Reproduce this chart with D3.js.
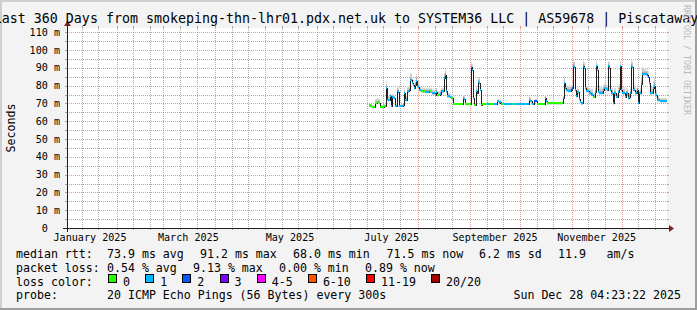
<!DOCTYPE html>
<html>
<head>
<meta charset="utf-8">
<script src="https://cdn.jsdelivr.net/npm/d3@7/dist/d3.min.js"></script>
<style>
  html, body { margin: 0; padding: 0; background: #f3f3f3; }
  svg { display: block; }
  text { font-family: "DejaVu Sans Mono", monospace; fill: #000; }
</style>
</head>
<body>
<svg id="chart" width="697" height="310"></svg>
<script>
// ── Data ──────────────────────────────────────
const graphEnd   = new Date(Date.UTC(2025, 11, 28, 4, 23, 22));
const graphStart = new Date(Date.UTC(2025, 0, 2, 4, 23, 22));   // 360 days earlier
const dataStart  = new Date(Date.UTC(2025, 6, 2, 9, 11, 22));   // first sample with data
const stepSec    = 51840;                                        // one sample per pixel
const yMaxMs     = 112.36;

// median rtt (ms), one value per step
const medianMs = [
  68.8, 68.8, 68.5, 68.0, 68.0, 68.0, 70.4, 70.4, 70.8, 70.8,
  70.4, 68.2, 68.2, 68.2, 68.2, 68.5, 68.5, 78.5, 72.3, 72.0,
  72.0, 74.0, 68.7, 73.4, 73.4, 73.0, 68.7, 68.7, 76.8, 76.5,
  68.7, 68.7, 68.7, 68.7, 68.9, 75.8, 72.0, 72.0, 76.8, 76.8,
  77.5, 83.0, 83.2, 81.5, 80.3, 78.5, 80.3, 82.7, 79.6, 79.4,
  77.7, 77.5, 77.0, 77.0, 76.8, 77.0, 76.6, 76.6, 76.6, 76.6,
  77.0, 76.8, 76.5, 75.7, 75.7, 75.7, 74.9, 76.6, 74.7, 74.7,
  74.9, 75.5, 76.8, 76.8, 76.8, 84.3, 86.1, 76.8, 74.0, 74.0,
  74.0, 73.5, 73.0, 72.8, 69.9, 69.9, 69.9, 69.9, 69.9, 69.9,
  69.9, 69.9, 69.9, 69.9, 73.0, 72.5, 69.9, 69.9, 69.9, 69.9,
  69.9, 69.9, 90.3, 89.0, 73.0, 69.3, 69.3, 76.8, 75.8, 82.0,
  81.5, 77.7, 69.3, 69.9, 69.9, 69.9, 69.9, 69.9, 69.9, 69.9,
  69.9, 69.9, 69.9, 69.9, 69.9, 69.9, 69.9, 69.9, 71.2, 71.2,
  70.5, 71.0, 69.9, 69.9, 69.9, 69.9, 69.9, 69.9, 69.9, 69.9,
  69.9, 69.9, 69.9, 69.9, 69.9, 69.9, 69.9, 69.9, 69.9, 69.9,
  69.9, 69.9, 69.9, 69.9, 69.9, 69.9, 69.9, 69.9, 69.9, 69.9,
  72.0, 71.5, 71.2, 69.9, 69.9, 71.5, 71.5, 71.5, 69.9, 69.9,
  69.9, 69.9, 69.9, 69.9, 69.9, 69.9, 73.0, 71.2, 70.2, 70.2,
  70.2, 70.2, 70.2, 70.2, 70.2, 70.2, 70.2, 70.2, 70.2, 70.2,
  70.2, 70.2, 70.2, 70.2, 72.8, 81.3, 78.5, 77.3, 77.3, 77.0,
  77.2, 77.0, 77.5, 78.6, 91.2, 90.5, 77.5, 74.0, 76.2, 76.2,
  72.6, 71.0, 70.0, 70.0, 91.0, 90.0, 78.5, 77.0, 77.0, 76.8,
  75.7, 75.7, 74.9, 75.0, 73.8, 73.8, 76.6, 90.8, 89.0, 76.6,
  76.0, 76.0, 76.0, 76.0, 77.5, 78.5, 78.5, 78.0, 77.5, 91.0,
  90.0, 77.5, 75.7, 75.7, 70.0, 75.7, 75.7, 73.8, 73.8, 76.6,
  78.0, 90.8, 77.5, 76.0, 76.0, 76.0, 73.8, 75.7, 75.7, 73.0,
  73.8, 76.0, 91.2, 90.6, 77.5, 77.5, 75.7, 75.7, 77.5, 70.0,
  75.7, 75.7, 81.0, 86.5, 86.5, 86.5, 86.5, 86.5, 86.0, 85.0,
  81.3, 75.7, 76.0, 76.0, 78.5, 80.0, 75.5, 74.5, 72.0, 72.0,
  71.9, 71.5, 71.5, 71.5, 71.5, 71.5, 71.5, 71.5
];

// lost pings (of 20) per step
const lossPings = [
  0,0,0,0,0,0,0,0,0,0,  0,0,0,0,0,0,0,1,2,1,  1,1,1,1,1,1,1,1,1,1,
  1,1,1,1,1,1,1,1,1,1,  1,1,1,1,1,1,1,1,1,1,  1,1,0,0,1,0,1,1,1,1,
  1,0,0,1,1,1,0,1,0,0,  0,1,1,1,1,1,1,1,1,1,  1,1,1,0,0,0,0,0,0,0,
  0,0,0,0,1,1,0,0,0,0,  0,0,1,1,1,0,0,1,2,1,  1,1,1,0,0,0,0,0,1,1,
  1,0,0,0,1,1,1,1,1,1,  1,1,0,0,0,1,1,1,1,1,  1,1,1,1,0,0,1,1,1,1,
  1,1,1,1,1,1,0,1,1,1,  1,1,1,1,1,2,2,2,1,0,  0,0,0,0,0,0,1,1,0,0,
  0,0,0,0,0,0,0,0,0,0,  0,0,0,0,1,1,1,1,1,1,  1,1,2,2,1,1,1,1,1,1,
  1,1,1,1,1,1,1,1,1,1,  1,1,1,1,0,0,1,1,1,1,  1,1,1,1,1,1,1,1,1,1,
  1,1,1,1,1,1,1,1,1,1,  1,1,1,1,1,1,0,1,1,1,  0,1,1,1,1,1,1,1,1,1,
  1,1,1,1,1,1,1,1,2,2,  1,1,1,1,1,1,1,1,1,1,  1,1,1,1,1,1,1,1
];

// smoke: spread of the slowest pings above the median (ms)
const smokeMs = [
  1,1,1,1,1,1,2,2,2,2,  2,1,1,1,1,1,1,4,2,2,  2,2,1,2,2,2,1,1,3,3,
  1,1,1,1,1,3,2,2,3,3,  3,4,4,3,3,3,3,4,3,3,  3,2,2,2,2,2,2,2,2,2,
  2,2,2,2,2,2,2,2,2,2,  2,2,2,2,2,3,3,2,2,2,  2,2,2,1,.5,.5,.5,.5,.5,.5,
  .5,.5,.5,.5,2,2,.5,.5,.5,.5,  .5,.5,3,3,2,1,1,3,3,3,  3,2,.5,.5,.5,.5,.5,.5,.5,.5,
  .5,.5,.5,.5,.5,.5,.5,.5,1,1,  1,1,.5,.5,.5,.5,.5,.5,.5,.5,  .5,.5,.5,.5,.5,.5,.5,.5,.5,.5,
  .5,.5,.5,.5,.5,.5,.5,.5,.5,.5,  2,2,1,.5,.5,1,1,1,.5,.5,  .5,.5,.5,.5,.5,.5,2,1,.5,.5,
  .5,.5,.5,.5,.5,.5,.5,.5,.5,.5,  .5,.5,.5,.5,2,4,3,3,3,3,  3,3,3,3,3,3,3,3,3,3,
  2,2,1,1,3,3,3,3,3,3,  3,3,3,3,2,2,3,3,3,3,  3,3,3,3,3,3,3,3,3,3,
  3,3,3,3,2,3,3,2,2,3,  3,3,3,3,3,3,2,3,3,2,  2,3,3,3,3,3,3,3,3,1,
  2,3,4,4,4,3,3,3,3,3,  3,3,3,3,4,4,3,3,2,2,  1.5,1.5,1.5,1.5,1.5,1.5,1.5,1.5
];

const yTicks      = [0, 10, 20, 30, 40, 50, 60, 70, 80, 90, 100, 110];
const yTickLabels = ["0", "10 m", "20 m", "30 m", "40 m", "50 m", "60 m", "70 m", "80 m", "90 m", "100 m", "110 m"];

const xLabelMonths = [0, 2, 4, 6, 8, 10];
const xLabelText   = ["January 2025", "March 2025", "May 2025", "July 2025", "September 2025", "November 2025"];

const lossClasses = ["0", "1", "2", "3", "4-5", "6-10", "11-19", "20/20"];
const lossColors  = ["#26ff00", "#00b8ff", "#0059ff", "#7e00ff", "#ff00ff", "#ff5500", "#ff0000", "#a10000"];
const lossUpper   = [0, 1, 2, 3, 5, 10, 19, 20];

const statLines = [
  { label: "median rtt:",  items: [["73.9 ms avg", 107], ["91.2 ms max", 200], ["68.0 ms min", 293], ["71.5 ms now", 386.5], ["6.2 ms sd", 479], ["11.9", 558], ["am/s", 606.5]] },
  { label: "packet loss:", items: [["0.54 % avg", 107], ["9.13 % max", 193], ["0.00 % min", 279], ["0.89 % now", 365]] }
];
const probeText = "20 ICMP Echo Pings (56 Bytes) every 300s";
const stampText = "Sun Dec 28 04:23:22 2025";
const titleText = "Last 360 Days from smokeping-thn-lhr01.pdx.net.uk to SYSTEM36 LLC | AS59678 | Piscataway";

// ── Layout ────────────────────────────────
const W = 697, H = 310;
const P = { left: 67, top: 28, width: 600, height: 200 };
const X0 = P.left, X1 = P.left + P.width, Y0 = P.top + P.height, Y1 = P.top;

const GRID  = "rgba(143,143,143,0.75)";
const MGRID = "rgba(222,79,79,0.6)";
const AXIS  = "#1f1f1f";
const ARROW = "#801f1f";

const svg = d3.select("#chart");
const x = d3.scaleUtc().domain([graphStart, graphEnd]).range([X0, X1]);
const y = d3.scaleLinear().domain([0, yMaxMs]).range([Y0, Y1]);
const px = v => Math.round(v) + 0.5;

// background + shade frame
svg.append("rect").attr("width", W).attr("height", H).attr("fill", "#f3f3f3");
svg.append("rect").attr("x", 0).attr("y", 0).attr("width", W).attr("height", 2).attr("fill", "#cfcfcf");
svg.append("rect").attr("x", 0).attr("y", 0).attr("width", 2).attr("height", H).attr("fill", "#cfcfcf");
svg.append("rect").attr("x", 0).attr("y", H - 2).attr("width", W).attr("height", 2).attr("fill", "#9e9e9e");
svg.append("rect").attr("x", W - 2).attr("y", 0).attr("width", 2).attr("height", H).attr("fill", "#9e9e9e");

// canvas
svg.append("rect").attr("x", X0).attr("y", Y1).attr("width", P.width).attr("height", P.height).attr("fill", "#ffffff");

// ── Grid ──────────────────────────────────
const gGrid = svg.append("g").attr("shape-rendering", "crispEdges");

function hLine(v, col) {
  const yy = px(y(v));
  gGrid.append("line").attr("x1", X0 - 2).attr("x2", X0).attr("y1", yy).attr("y2", yy).attr("stroke", col);
  gGrid.append("line").attr("x1", X1).attr("x2", X1 + 2).attr("y1", yy).attr("y2", yy).attr("stroke", col);
  gGrid.append("line").attr("x1", X0).attr("x2", X1).attr("y1", yy).attr("y2", yy)
    .attr("stroke", col).attr("stroke-dasharray", "1,1");
}
function vLine(t, col) {
  const xx = px(x(t));
  gGrid.append("line").attr("x1", xx).attr("x2", xx).attr("y1", Y0).attr("y2", Y0 + 2).attr("stroke", col);
  gGrid.append("line").attr("x1", xx).attr("x2", xx).attr("y1", Y1 - 2).attr("y2", Y1).attr("stroke", col);
  gGrid.append("line").attr("x1", xx).attr("x2", xx).attr("y1", Y1).attr("y2", Y0)
    .attr("stroke", col).attr("stroke-dasharray", "1,1");
}

// minor: every 5 ms, major: every 10 ms
d3.range(5, yMaxMs, 10).forEach(v => hLine(v, GRID));
yTicks.filter(v => v > 0).forEach(v => hLine(v, MGRID));

// minor on the 11th and 21st, major on the 1st of each month
d3.utcDay.range(graphStart, graphEnd)
  .filter(d => d.getUTCDate() === 11 || d.getUTCDate() === 21)
  .forEach(d => vLine(d, GRID));
d3.utcMonth.range(graphStart, graphEnd).forEach(d => vLine(d, MGRID));

// ── Series ────────────────────────────────
const stepMs = stepSec * 1000;
const pts = medianMs.map((v, i) => ({
  t: new Date(+dataStart + i * stepMs),
  v, loss: lossPings[i], s: smokeMs[i]
}));
const ptsEnd = pts.concat([{ ...pts[pts.length - 1], t: new Date(+dataStart + pts.length * stepMs) }]);

// smoke, three grey layers (outer -> inner)
const smokeLayers = [
  { hi: 1.0,  lo: 1.0, fill: "#dedede" },
  { hi: 0.66, lo: 0.7, fill: "#c6c6c6" },
  { hi: 0.33, lo: 0.4, fill: "#a9a9a9" }
];
smokeLayers.forEach(L => {
  svg.append("path")
    .datum(ptsEnd)
    .attr("fill", L.fill)
    .attr("shape-rendering", "crispEdges")
    .attr("d", d3.area()
      .curve(d3.curveStepAfter)
      .x(d => x(d.t))
      .y0(d => y(d.v - L.lo))
      .y1(d => y(d.v + d.s * L.hi)));
});

// median, thin dark line
svg.append("path")
  .datum(ptsEnd)
  .attr("fill", "none")
  .attr("stroke", "#202020")
  .attr("stroke-width", 1)
  .attr("shape-rendering", "crispEdges")
  .attr("d", d3.line().curve(d3.curveStepAfter).x(d => Math.round(x(d.t))).y(d => px(y(d.v))));

// median coloured by loss (2 px band)
const lossIndex = n => lossUpper.findIndex(u => n <= u);
const sw = 0.6;
svg.append("g").attr("shape-rendering", "crispEdges")
  .selectAll("rect").data(pts).join("rect")
  .attr("x", d => x(d.t))
  .attr("width", d => x(new Date(+d.t + stepMs)) - x(d.t))
  .attr("y", d => y(d.v + sw))
  .attr("height", d => y(d.v - sw) - y(d.v + sw))
  .attr("fill", d => lossColors[lossIndex(d.loss)]);

// ── Axes ──────────────────────────────────
const gAx = svg.append("g").attr("shape-rendering", "crispEdges");
gAx.append("line").attr("x1", X0 - 4).attr("x2", X1 + 4).attr("y1", Y0 + 0.5).attr("y2", Y0 + 0.5).attr("stroke", AXIS);
gAx.append("line").attr("x1", X0 + 0.5).attr("x2", X0 + 0.5).attr("y1", Y0 + 4).attr("y2", Y1 - 4).attr("stroke", AXIS);
svg.append("path").attr("fill", ARROW)
  .attr("d", `M${X1 + 2},${Y0 - 3} L${X1 + 2},${Y0 + 4} L${X1 + 7},${Y0 + 0.5} Z`);
svg.append("path").attr("fill", ARROW)
  .attr("d", `M${X0 - 3},${Y1 - 2} L${X0 + 4},${Y1 - 2} L${X0 + 0.5},${Y1 - 7} Z`);

// y labels (right aligned, unit suffix keeps the column)
const axisFont = 10.1, axisAdv = axisFont * 0.602;
svg.append("g").selectAll("text").data(yTicks).join("text")
  .attr("x", (d, i) => 60 - (yTickLabels[i].includes(" ") ? 0 : 2 * axisAdv))
  .attr("y", d => y(d) + 3.6)
  .attr("text-anchor", "end")
  .attr("font-size", axisFont)
  .text((d, i) => yTickLabels[i]);

// x labels centred mid-month
svg.append("g").selectAll("text").data(xLabelMonths).join("text")
  .attr("x", m => x(new Date(Date.UTC(2025, m, 16))))
  .attr("y", 241)
  .attr("text-anchor", "middle")
  .attr("font-size", axisFont)
  .text((m, i) => xLabelText[i]);

// title (centred by rrdtool, runs past both edges like the original)
svg.append("text")
  .attr("x", -6.2).attr("y", 23)
  .attr("font-size", 13.3)
  .text(titleText);

// vertical unit label
svg.append("text")
  .attr("transform", `translate(15.2,${(Y0 + Y1) / 2}) rotate(-90)`)
  .attr("text-anchor", "middle")
  .attr("font-size", 11.6)
  .text("Seconds");

// watermark
svg.append("text")
  .attr("transform", "translate(684,5) rotate(90)")
  .attr("font-size", 8.3)
  .style("fill", "#b9b9b9")
  .text("RRDTOOL / TOBI OETIKER");

// ── Legend ────────────────────────────────
const legFont = 11.6;
const rowY = [258.3, 271.9, 285.6, 299.2];
const leg = svg.append("g").attr("font-size", legFont);

statLines.forEach((row, r) => {
  leg.append("text").attr("x", 16).attr("y", rowY[r]).text(row.label);
  row.items.forEach(([txt, xx]) => leg.append("text").attr("x", xx).attr("y", rowY[r]).text(txt));
});

leg.append("text").attr("x", 16).attr("y", rowY[2]).text("loss color:");
let bx = 108;
lossClasses.forEach((lbl, i) => {
  leg.append("rect")
    .attr("x", bx + 0.5).attr("y", rowY[2] - 11.5)
    .attr("width", 8).attr("height", 8)
    .attr("fill", lossColors[i]).attr("stroke", "#000").attr("stroke-width", 1)
    .attr("shape-rendering", "crispEdges");
  const t = leg.append("text").attr("x", bx + 15).attr("y", rowY[2]).text(lbl);
  bx = bx + 15 + t.node().getComputedTextLength() + 15.2;
});

leg.append("text").attr("x", 16).attr("y", rowY[3]).text("probe:");
leg.append("text").attr("x", 107).attr("y", rowY[3]).text(probeText);
leg.append("text").attr("x", 681).attr("y", rowY[3]).attr("text-anchor", "end").text(stampText);
</script>
</body>
</html>
